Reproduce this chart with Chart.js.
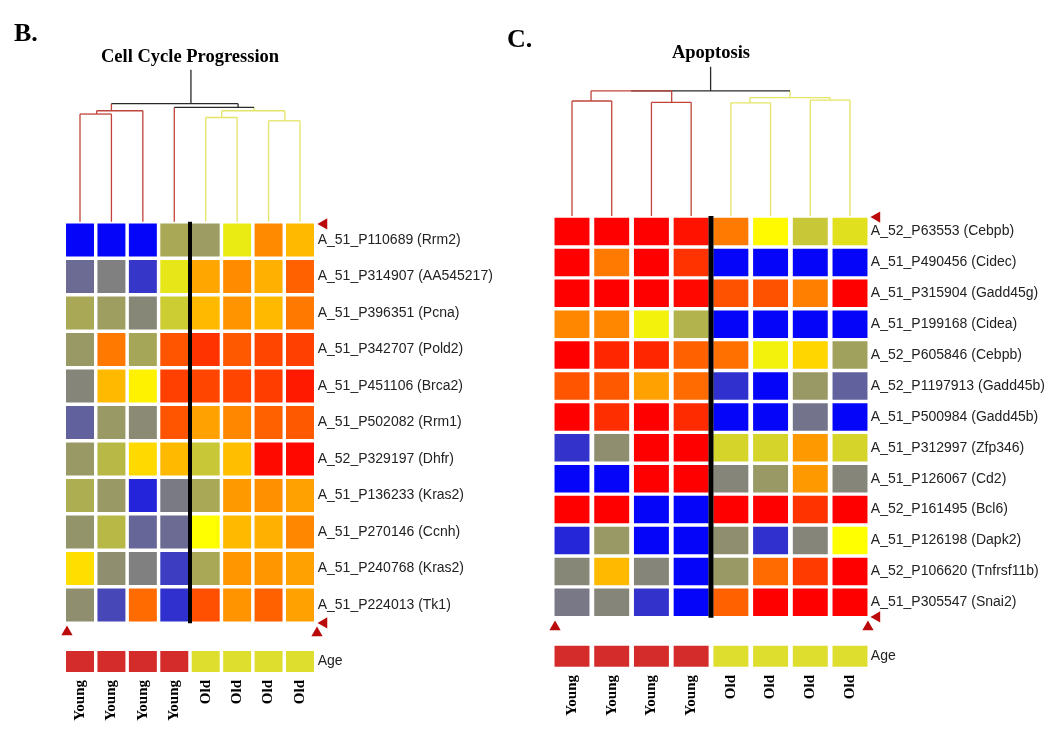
<!DOCTYPE html>
<html><head><meta charset="utf-8">
<script src="https://cdn.jsdelivr.net/npm/chart.js@4.4.0/dist/chart.umd.min.js"></script>
<style>
html,body{margin:0;padding:0;background:#fff;}
#wrap{position:relative;width:1050px;height:733px;overflow:hidden;background:#fff;}
canvas{position:absolute;top:0;}
.tag{position:absolute;font:bold 26px 'Liberation Serif',serif;line-height:26px;color:#000;}
</style></head><body>
<div id="wrap">
<canvas id="cellChart" width="525" height="733" style="left:0"></canvas>
<canvas id="apopChart" width="525" height="733" style="left:525px"></canvas>
<div class="tag" style="left:14px;top:20px">B.</div>
<div class="tag" style="left:507px;top:26px">C.</div>
</div>
<script>
// ---------------- DATA ----------------
const sampleGroups = ['Young','Young','Young','Young','Old','Old','Old','Old'];
const ageColors = { Young: '#d42b2b', Old: '#dede2e' };

const cellTitle = 'Cell Cycle Progression';
const cellGenes = [
  'A_51_P110689 (Rrm2)', 'A_51_P314907 (AA545217)', 'A_51_P396351 (Pcna)',
  'A_51_P342707 (Pold2)', 'A_51_P451106 (Brca2)', 'A_51_P502082 (Rrm1)',
  'A_52_P329197 (Dhfr)', 'A_51_P136233 (Kras2)', 'A_51_P270146 (Ccnh)',
  'A_51_P240768 (Kras2)', 'A_51_P224013 (Tk1)'
];
// normalized expression (0 = blue, 1 = yellow, 2 = red)
const cellValues = [
  [0.02, 0.02, 0.02, 0.66, 0.61, 0.92, 1.46, 1.27],
  [0.42, 0.50, 0.21, 0.90, 1.35, 1.45, 1.31, 1.62],
  [0.66, 0.62, 0.53, 0.80, 1.27, 1.42, 1.27, 1.53],
  [0.60, 1.53, 0.65, 1.67, 1.80, 1.65, 1.73, 1.75],
  [0.52, 1.27, 1.05, 1.75, 1.73, 1.73, 1.76, 1.90],
  [0.38, 0.60, 0.54, 1.67, 1.37, 1.47, 1.62, 1.65],
  [0.60, 0.72, 1.15, 1.27, 0.78, 1.25, 1.96, 1.97],
  [0.68, 0.60, 0.14, 0.48, 0.66, 1.40, 1.43, 1.37],
  [0.58, 0.72, 0.40, 0.42, 1.00, 1.27, 1.31, 1.47],
  [1.13, 0.56, 0.50, 0.24, 0.66, 1.41, 1.41, 1.37],
  [0.56, 0.28, 1.58, 0.19, 1.69, 1.42, 1.62, 1.37]
];
// dendrogram merges: children a/b (leaf index or node id), merge height h, stem column x
const cellTree = [
  {id:'A', a:0,   b:1,   h:0.718, x:0.53, c:'red'},
  {id:'B', a:'A', b:2,   h:0.740, x:1.00, c:'red'},
  {id:'C', a:4,   b:5,   h:0.695, x:4.51, c:'yellow'},
  {id:'D', a:6,   b:7,   h:0.673, x:6.52, c:'yellow'},
  {id:'E', a:'C', b:'D', h:0.740, x:5.54, c:'yellow'},
  {id:'F', a:3,   b:'E', h:0.762, x:5.03, c:'black'},
  {id:'R', a:'B', b:'F', h:0.787, x:3.53, c:'black'}
];
const cellStemTop = 1.013;

const apopTitle = 'Apoptosis';
const apopGenes = [
  'A_52_P63553 (Cebpb)', 'A_51_P490456 (Cidec)', 'A_51_P315904 (Gadd45g)',
  'A_51_P199168 (Cidea)', 'A_52_P605846 (Cebpb)', 'A_52_P1197913 (Gadd45b)',
  'A_51_P500984 (Gadd45b)', 'A_51_P312997 (Zfp346)', 'A_51_P126067 (Cd2)',
  'A_52_P161495 (Bcl6)', 'A_51_P126198 (Dapk2)', 'A_52_P106620 (Tnfrsf11b)',
  'A_51_P305547 (Snai2)'
];
const apopValues = [
  [2.00, 2.00, 2.00, 1.93, 1.52, 1.02, 0.78, 0.88],
  [2.00, 1.52, 2.00, 1.80, 0.02, 0.02, 0.02, 0.02],
  [2.00, 2.00, 2.00, 1.97, 1.68, 1.68, 1.50, 2.00],
  [1.47, 1.47, 0.95, 0.70, 0.02, 0.02, 0.02, 0.02],
  [2.00, 1.85, 1.85, 1.62, 1.56, 0.95, 1.16, 0.63],
  [1.67, 1.65, 1.37, 1.58, 0.19, 0.02, 0.60, 0.38],
  [2.00, 1.82, 2.00, 1.83, 0.02, 0.02, 0.45, 0.02],
  [0.20, 0.56, 2.00, 2.00, 0.83, 0.83, 1.40, 0.83],
  [0.02, 0.02, 2.00, 2.00, 0.52, 0.60, 1.40, 0.52],
  [2.00, 2.00, 0.02, 0.02, 2.00, 2.00, 1.80, 2.00],
  [0.15, 0.60, 0.02, 0.02, 0.56, 0.19, 0.52, 1.00],
  [0.53, 1.27, 0.52, 0.02, 0.60, 1.58, 1.77, 2.00],
  [0.47, 0.52, 0.20, 0.02, 1.62, 2.00, 2.00, 2.00]
];
const apopTree = [
  {id:'P', a:0,   b:1,   h:0.767, x:0.48, c:'red'},
  {id:'Q', a:2,   b:3,   h:0.758, x:2.51, c:'red'},
  {id:'M', a:4,   b:5,   h:0.755, x:4.48, c:'yellow'},
  {id:'N', a:6,   b:7,   h:0.773, x:6.50, c:'yellow'},
  {id:'O', a:'M', b:'N', h:0.789, x:5.49, c:'yellow'},
  {id:'L', a:'P', b:'Q', h:0.835, x:1.49, c:'red'},
  {id:'R', a:'L', b:'O', h:0.835, x:3.49, c:'black'}
];
const apopStemTop = 0.995;

// ---------------- STYLE / LAYOUT ----------------
const lineColors = { red: '#c0443a', yellow: '#e4e466', black: '#2a2a2a' };

function heatColor(t) {
  t = Math.max(0, Math.min(2, t));
  let r, g, b;
  if (t <= 1) { r = 255 * t; g = 255 * t; b = 255 * (1 - t); }
  else { r = 255; g = 255 * (2 - t); b = 0; }
  return 'rgb(' + Math.round(r) + ',' + Math.round(g) + ',' + Math.round(b) + ')';
}

function treeSegments(tree, stemTop) {
  const pos = {};
  sampleGroups.forEach((g, i) => { pos[i] = {x: i, h: 0, c: g === 'Young' ? 'red' : 'yellow'}; });
  tree.forEach(n => { pos[n.id] = {x: n.x, h: n.h, c: n.c}; });
  const children = new Set();
  tree.forEach(n => { children.add(n.a); children.add(n.b); });
  const segs = [];
  tree.forEach(n => {
    const A = pos[n.a], B = pos[n.b];
    segs.push({p: [[A.x, n.h], [B.x, n.h]], c: n.c});
    [A, B].forEach(ch => { if (n.h > ch.h) segs.push({p: [[ch.x, ch.h], [ch.x, n.h]], c: ch.c}); });
  });
  const root = tree.find(n => !children.has(n.id));
  segs.push({p: [[root.x, root.h], [root.x, stemTop]], c: 'black'});
  return segs;
}

function makePanel(id, P, L) {
  const nRows = P.genes.length, nCols = sampleGroups.length;
  const vmin = (L.chartTop - L.row0) / L.pitchY;
  const vmax = (L.chartBottom - L.row0) / L.pitchY;
  const ageY = (L.ageCenter - L.row0) / L.pitchY;
  const ageHalf = L.ageHalfPx / L.pitchY;
  const dScale = L.dendroPx / L.pitchY;
  const toY = h => -0.5 - h * dScale;
  const datasets = [];

  // triangle markers (transparent border widens the in-area margin so edge markers still draw)
  const mk = L.markers.map(m => ({
    x: (m.edgeX === 'right' ? nCols - 0.5 : -0.5) + m.dx / L.pitchX,
    y: (m.edgeY === 'bottom' ? nRows - 0.5 : -0.5) + m.dy / L.pitchY
  }));
  datasets.push({
    type: 'scatter', data: mk, pointStyle: 'triangle',
    rotation: L.markers.map(m => m.rot), pointRadius: 6.5,
    backgroundColor: '#bb0a0a', borderColor: 'rgba(0,0,0,0)', borderWidth: 6,
    clip: false, order: 0
  });
  // divider between groups
  const split = sampleGroups.indexOf('Old') - 0.5;
  datasets.push({
    type: 'line', data: [{x: split, y: -0.5}, {x: split, y: nRows - 0.5}],
    borderColor: '#000', borderWidth: L.divW, pointRadius: 0, order: 1, clip: false
  });
  // dendrogram
  treeSegments(P.tree, P.stemTop).forEach(s => {
    datasets.push({
      type: 'line', data: s.p.map(q => ({x: q[0], y: toY(q[1])})),
      borderColor: lineColors[s.c], borderWidth: 1.3, pointRadius: 0,
      clip: false, order: 2
    });
  });
  // heatmap rows
  P.values.forEach((row, r) => {
    datasets.push({
      type: 'bar',
      data: row.map((v, c) => ({x: c, y: [r - L.cellH / 2, r + L.cellH / 2]})),
      backgroundColor: row.map(heatColor),
      grouped: false, barPercentage: L.cellW, categoryPercentage: 1,
      borderWidth: 0, order: 3
    });
  });
  // age row
  datasets.push({
    type: 'bar',
    data: sampleGroups.map((g, c) => ({x: c, y: [ageY - ageHalf, ageY + ageHalf]})),
    backgroundColor: sampleGroups.map(g => ageColors[g]),
    grouped: false, barPercentage: L.cellW, categoryPercentage: 1,
    borderWidth: 0, order: 3
  });

  const rowTicks = P.genes.map((g, i) => i).concat([ageY]);
  const rowLabels = P.genes.concat(['Age']);

  return new Chart(document.getElementById(id), {
    type: 'bar',
    data: { datasets },
    options: {
      responsive: false, animation: false, devicePixelRatio: 1,
      layout: { padding: { left: L.padLeft, right: 0, top: 0, bottom: 0 } },
      plugins: {
        legend: { display: false }, tooltip: { enabled: false },
        title: {
          display: true, text: P.title, fullSize: false, color: '#000',
          font: { family: 'Liberation Serif', weight: 'bold', size: 18.5 },
          padding: { top: L.titleTop, bottom: L.titleBottom }
        }
      },
      scales: {
        x: {
          type: 'linear', position: 'bottom', min: -0.5, max: nCols - 0.5, offset: false,
          grid: { display: false, drawTicks: false, offset: false }, border: { display: false },
          afterBuildTicks: ax => { ax.ticks = sampleGroups.map((g, i) => ({value: i})); },
          afterFit: ax => { ax.height = L.xAxisH; ax.paddingLeft = 0; ax.paddingRight = 0; },
          ticks: {
            autoSkip: false, minRotation: 90, maxRotation: 90, padding: L.tickPad,
            color: '#000', font: { family: 'Liberation Serif', weight: 'bold', size: 15 },
            callback: (v, i) => sampleGroups[i]
          }
        },
        y: {
          type: 'linear', position: 'right', reverse: true, min: vmin, max: vmax, offset: false,
          grid: { display: false, drawTicks: false }, border: { display: false },
          afterBuildTicks: ax => { ax.ticks = rowTicks.map(v => ({value: v})); },
          afterFit: ax => { ax.width = L.yAxisW; ax.paddingTop = 0; ax.paddingBottom = 0; },
          ticks: {
            autoSkip: false, padding: L.labelPad, color: '#222',
            font: { family: 'Liberation Sans', size: 14 },
            callback: (v, i) => rowLabels[i]
          }
        }
      }
    }
  });
}

makePanel('cellChart',
  { genes: cellGenes, values: cellValues, tree: cellTree, stemTop: cellStemTop, title: cellTitle },
  { pitchX: 31.43, pitchY: 36.5, row0: 240, chartTop: 70, chartBottom: 676,
    padLeft: 64.29, yAxisW: 209.29, xAxisH: 57, titleTop: 45.9, titleBottom: 1.9,
    ageCenter: 661.5, ageHalfPx: 10.6, dendroPx: 150, cellW: 0.89, cellH: 0.9,
    divW: 4, tickPad: 4, labelPad: 2,
    markers: [
      {edgeX: 'right', edgeY: 'top', dx: 8.3, dy: 2.2, rot: -90},
      {edgeX: 'left', edgeY: 'bottom', dx: 2.7, dy: 8.8, rot: 0},
      {edgeX: 'right', edgeY: 'bottom', dx: 1.3, dy: 9.8, rot: 0},
      {edgeX: 'right', edgeY: 'bottom', dx: 8.3, dy: -0.3, rot: -90}
    ] });

makePanel('apopChart',
  { genes: apopGenes, values: apopValues, tree: apopTree, stemTop: apopStemTop, title: apopTitle },
  { pitchX: 39.71, pitchY: 30.9, row0: 231.5, chartTop: 67, chartBottom: 671,
    padLeft: 27.14, yAxisW: 180.14, xAxisH: 62, titleTop: 42.2, titleBottom: 2.6,
    ageCenter: 656.2, ageHalfPx: 10.5, dendroPx: 150, cellW: 0.88, cellH: 0.89,
    divW: 5, tickPad: 4, labelPad: 1,
    markers: [
      {edgeX: 'right', edgeY: 'top', dx: 7.1, dy: 1.0, rot: -90},
      {edgeX: 'left', edgeY: 'bottom', dx: 2.9, dy: 9.3, rot: 0},
      {edgeX: 'right', edgeY: 'bottom', dx: -1.9, dy: 9.3, rot: 0},
      {edgeX: 'right', edgeY: 'bottom', dx: 7.1, dy: -0.8, rot: -90}
    ] });
</script>
</body></html>
